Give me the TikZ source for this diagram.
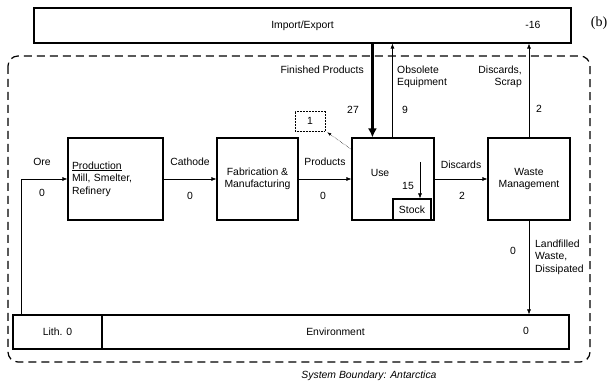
\documentclass[tikz,border=0pt]{standalone}
\usepackage{fontspec}
\setmainfont{Liberation Sans}
\newfontfamily\panelfont{Liberation Serif}
\usetikzlibrary{arrows.meta, positioning, calc}

\begin{document}
\begin{tikzpicture}[
    x=1pt, y=-1pt,
    every node/.style={font=\fontsize{10.4}{12.5}\selectfont, inner sep=0pt},
    box/.style={draw, line width=1.1pt, minimum height=82pt, anchor=center},
    bar/.style={draw, line width=1.1pt, minimum height=34pt, anchor=center},
    flow/.style={-{Latex[length=5pt,width=4pt]}, line width=0.6pt},
    thickflow/.style={-{Latex[length=9pt,width=9pt]}, line width=2.6pt},
    dotflow/.style={-{Latex[length=4pt,width=3pt]}, densely dotted, line width=0.5pt},
    boundary/.style={draw, dash pattern=on 8pt off 5pt, line width=1.2pt, rounded corners=10pt}
]
\useasboundingbox (0,0) rectangle (611,382);

% system boundary
\draw[boundary] (8,56) rectangle (590,362);
\node[font=\fontsize{10.4}{12.5}\selectfont\itshape] (sysname) at (369,376) {System Boundary: Antarctica};
\node[font=\panelfont\fontsize{14}{16}\selectfont] (panel) at (599,23) {(b)};

% boxes
\node[draw, line width=1.1pt, minimum width=537pt, minimum height=35pt] (imp) at (302.5,25.5) {Import/Export};
\node (impval) at (533,25) {-16};
\node[box, minimum width=95pt, text width=87pt, align=left] (prod) at (115.5,179)
    {\underline{Production}\\Mill, Smelter,\\Refinery};
\node[box, minimum width=81pt, align=center] (fab) at (257.5,179) {Fabrication \&\\Manufacturing};
\node[box, minimum width=82pt] (use) at (393,179) {};
\node[draw, line width=1.1pt, minimum width=38pt, minimum height=21pt] (stock) at (412,209.5) {Stock};
\node[box, minimum width=82pt, align=center] (waste) at (529,179) {Waste\\Management};
\node[bar, minimum width=89pt] (lith) at (57.5,332) {Lith. 0};
\node[bar, minimum width=467pt] (env) at (335.5,332) {Environment};
\node (envval) at (526,331) {0};
\node[draw, densely dotted, line width=0.5pt, minimum width=30pt, minimum height=20pt] (one) at (310,121) {1};

\node (uselbl) at (380,173) {Use};
\node (stockval) at (408,186) {15};

% flows
\coordinate (ore) at (21,315);
\coordinate (fp) at ($(use.north west)+(21,0)$);
\coordinate (ob) at ($(use.north west)+(41,0)$);
\coordinate (st) at (420,162);
\draw[flow] (ore) |- (prod.west);
\draw[flow] (prod) -- (fab);
\draw[flow] (fab) -- (use);
\draw[flow] (use) -- (waste);
\draw[thickflow] (imp.south -| fp) -- (fp);
\draw[flow] (ob) -- (imp.south -| ob);
\draw[flow] (waste.north) -- (imp.south -| waste.north);
\draw[flow] (waste.south) -- (env.north -| waste.south);
\draw[flow] (st) -- (st |- stock.north);
\draw[dotflow] ($(use.north west)+(0,12)$) -- ($(one.south east)+(2,1)$);

% labels
\node[anchor=east] (fplbl) at (364,70) {Finished Products};
\node (fpval) at (353,110) {27};
\node[anchor=west, align=left] (oblbl) at (397,77) {Obsolete\\Equipment};
\node (obval) at (405,110) {9};
\node[anchor=east, align=right] (dslbl) at (522,77) {Discards,\\Scrap};
\node (dsval) at (539,109) {2};
\node (orelbl) at (42,162) {Ore};
\node (oreval) at (42,193) {0};
\node (catlbl) at (190,162) {Cathode};
\node (catval) at (190,196) {0};
\node (prdlbl) at (325,162) {Products};
\node (prdval) at (323,196) {0};
\node (dislbl) at (461,165) {Discards};
\node (disval) at (462,196) {2};
\node (lfval) at (513,251) {0};
\node[anchor=west, align=left] (lflbl) at (535,257) {Landfilled\\Waste,\\Dissipated};
\end{tikzpicture}
\end{document}
